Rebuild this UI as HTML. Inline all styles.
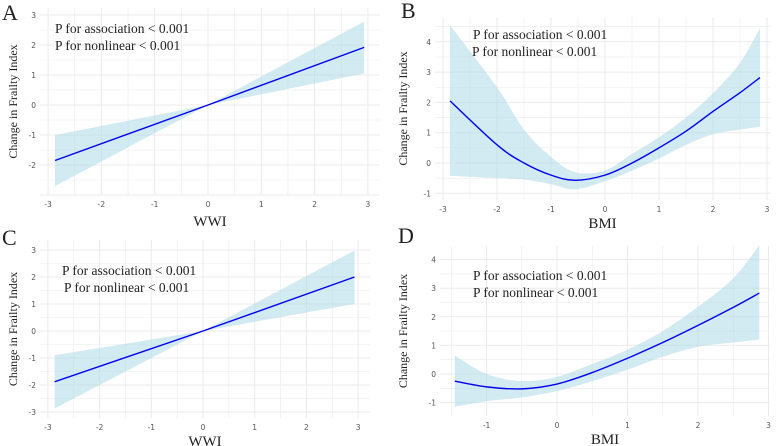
<!DOCTYPE html>
<html><head><meta charset="utf-8"><style>
body{margin:0;background:#fff;}
svg{display:block;}
.tick{font-family:"DejaVu Sans","Liberation Sans",sans-serif;font-size:7.5px;fill:#555;}
.ttl{font-family:"Liberation Serif",serif;fill:#222;}
</style></head><body>
<svg id="chart" width="778" height="446" viewBox="0 0 778 446" xmlns="http://www.w3.org/2000/svg"></svg>
<script>
// Panel A (WWI)
const aX=[-2.87,0,2.93];
const aFit=[-1.85,0,1.92];
const aLo=[-2.7,0,1.05];
const aHi=[-1.0,0,2.78];
// Panel B (BMI)
const bX=[-2.87,-2,-1.5,-1,-0.55,0,0.5,1,1.5,2,2.5,2.87];
const bFit=[2.05,0.6,0.0,-0.4,-0.57,-0.4,0.0,0.5,1.05,1.7,2.32,2.82];
const bHi=[4.55,2.5,1.1,0.2,-0.3,-0.25,0.3,0.85,1.5,2.3,3.3,4.45];
const bLo=[-0.42,-0.5,-0.55,-0.7,-0.87,-0.6,-0.25,0.15,0.6,0.95,1.1,1.2];
// Panel C (WWI)
const cX=[-2.87,0,2.93];
const cFit=[-1.88,0,2.0];
const cLo=[-2.87,0,1.0];
const cHi=[-0.9,0,2.98];
// Panel D (BMI)
const dX=[-1.45,-1,-0.5,0,0.5,1,1.5,2,2.5,2.87];
const dFit=[-0.25,-0.45,-0.52,-0.35,0.05,0.55,1.1,1.7,2.33,2.83];
const dHi=[0.65,0.0,-0.25,-0.1,0.35,0.85,1.5,2.35,3.35,4.5];
const dLo=[-1.15,-0.95,-0.82,-0.6,-0.25,0.15,0.6,0.95,1.1,1.2];
// tick labels
const xTicksAC=[-3,-2,-1,0,1,2,3];
const yTicksA=[-2,-1,0,1,2,3];
const xTicksB=[-3,-2,-1,0,1,2,3];
const yTicksB=[-1,0,1,2,3,4];
const yTicksC=[-3,-2,-1,0,1,2,3];
const xTicksD=[-1,0,1,2,3];
const yTicksD=[-1,0,1,2,3,4];

const NS="http://www.w3.org/2000/svg";
const svg=document.getElementById('chart');
function mk(tag,attrs,parent){const e=document.createElementNS(NS,tag);for(const k in attrs)e.setAttribute(k,attrs[k]);(parent||svg).appendChild(e);return e;}
function spline(pts){let d='M'+pts[0][0]+','+pts[0][1];for(let i=0;i<pts.length-1;i++){const p0=pts[i-1]||pts[i],p1=pts[i],p2=pts[i+1],p3=pts[i+2]||p2;const c1=[p1[0]+(p2[0]-p0[0])/6,p1[1]+(p2[1]-p0[1])/6];const c2=[p2[0]-(p3[0]-p1[0])/6,p2[1]-(p3[1]-p1[1])/6];d+=' C'+c1+' '+c2+' '+p2;}return d;}

function panel(c){
  const g=mk('g',{});
  
  
  const sx=v=>c.x0+c.kx*v, sy=v=>c.y0-c.ky*v;
  const vx0=(c.L-c.x0)/c.kx,vx1=(c.R-c.x0)/c.kx,vy0=(c.y0-c.B)/c.ky,vy1=(c.y0-c.T)/c.ky;
  for(let v=Math.ceil(vx0*2)/2;v<=vx1;v+=0.5){const l=mk('line',{x1:sx(v),x2:sx(v),y1:c.T,y2:c.B,stroke:'#ebebeb','stroke-width':Number.isInteger(v)?1:0.6},g);}
  for(let v=Math.ceil(vy0*2)/2;v<=vy1;v+=0.5){const l=mk('line',{x1:c.L,x2:c.R,y1:sy(v),y2:sy(v),stroke:'#ebebeb','stroke-width':Number.isInteger(v)?1:0.6},g);}
  const up=c.xs.map((x,i)=>[sx(x),sy(c.hi[i])]),lo=c.xs.map((x,i)=>[sx(x),sy(c.lo[i])]).reverse();
  let bd=c.smooth?spline(up)+' L'+spline(lo).slice(1)+' Z':'M'+up.join(' L')+' L'+lo.join(' L')+' Z';
  const band=mk('path',{d:bd,fill:'#add8e6','fill-opacity':0.55},g);
  
  
  const fp=c.xs.map((x,i)=>[sx(x),sy(c.fit[i])]);
  const line=mk('path',{d:c.smooth?spline(fp):'M'+fp.join(' L'),fill:'none',stroke:'#0000ee','stroke-width':1.4},g);
  
  
  c.xt.forEach(v=>{const t=mk('text',{x:sx(v),y:c.B+12,class:'tick','text-anchor':'middle'},g);t.textContent=v;});
  c.yt.forEach(v=>{const t=mk('text',{x:c.L-4,y:sy(v)+3,class:'tick','text-anchor':'end'},g);t.textContent=v;});
  const xl=mk('text',{x:(c.L+c.R)/2,y:c.xly,class:'ttl','font-size':15,'text-anchor':'middle'},g);xl.textContent=c.xlab;
  
  const yc=(c.T+c.B)/2;
  const yl=mk('text',{x:c.ylx,y:yc,class:'ttl','font-size':12,'text-anchor':'middle',transform:`rotate(-90 ${c.ylx} ${yc})`},g);yl.textContent='Change in Frailty Index';
  
  c.ann.forEach((a,i)=>{const t=mk('text',{x:a[0],y:a[1],class:'ttl','font-size':13.5},g);t.textContent=i?'P for nonlinear < 0.001':'P for association < 0.001';});
  const lt=mk('text',{x:c.let[0],y:c.let[1],class:'ttl','font-size':22},g);lt.textContent=c.id;
  
}
panel({id:'A',x0:208,kx:53.3,y0:105,ky:30,L:40,R:380,T:8,B:195,xs:aX,fit:aFit,lo:aLo,hi:aHi,xt:xTicksAC,yt:yTicksA,xlab:'WWI',xly:226,ylx:17,ann:[[55,33],[55,50]],let:[2,20],smooth:false});
panel({id:'B',x0:605,kx:54,y0:163,ky:30.3,L:435,R:770,T:17,B:200,xs:bX,fit:bFit,lo:bLo,hi:bHi,xt:xTicksB,yt:yTicksB,xlab:'BMI',xly:228,ylx:407,ann:[[473,39],[472,56]],let:[401,18],smooth:true});
panel({id:'C',x0:203,kx:51.7,y0:331,ky:27,L:40,R:370,T:240,B:418,xs:cX,fit:cFit,lo:cLo,hi:cHi,xt:xTicksAC,yt:yTicksC,xlab:'WWI',xly:446,ylx:17,ann:[[62,275],[64,292]],let:[2,245],smooth:false});
panel({id:'D',x0:557,kx:70.5,y0:374,ky:28.6,L:440,R:770,T:246,B:416,xs:dX,fit:dFit,lo:dLo,hi:dHi,xt:xTicksD,yt:yTicksD,xlab:'BMI',xly:444,ylx:407,ann:[[473,280],[473,297]],let:[398,243],smooth:true});
</script>
</body></html>
